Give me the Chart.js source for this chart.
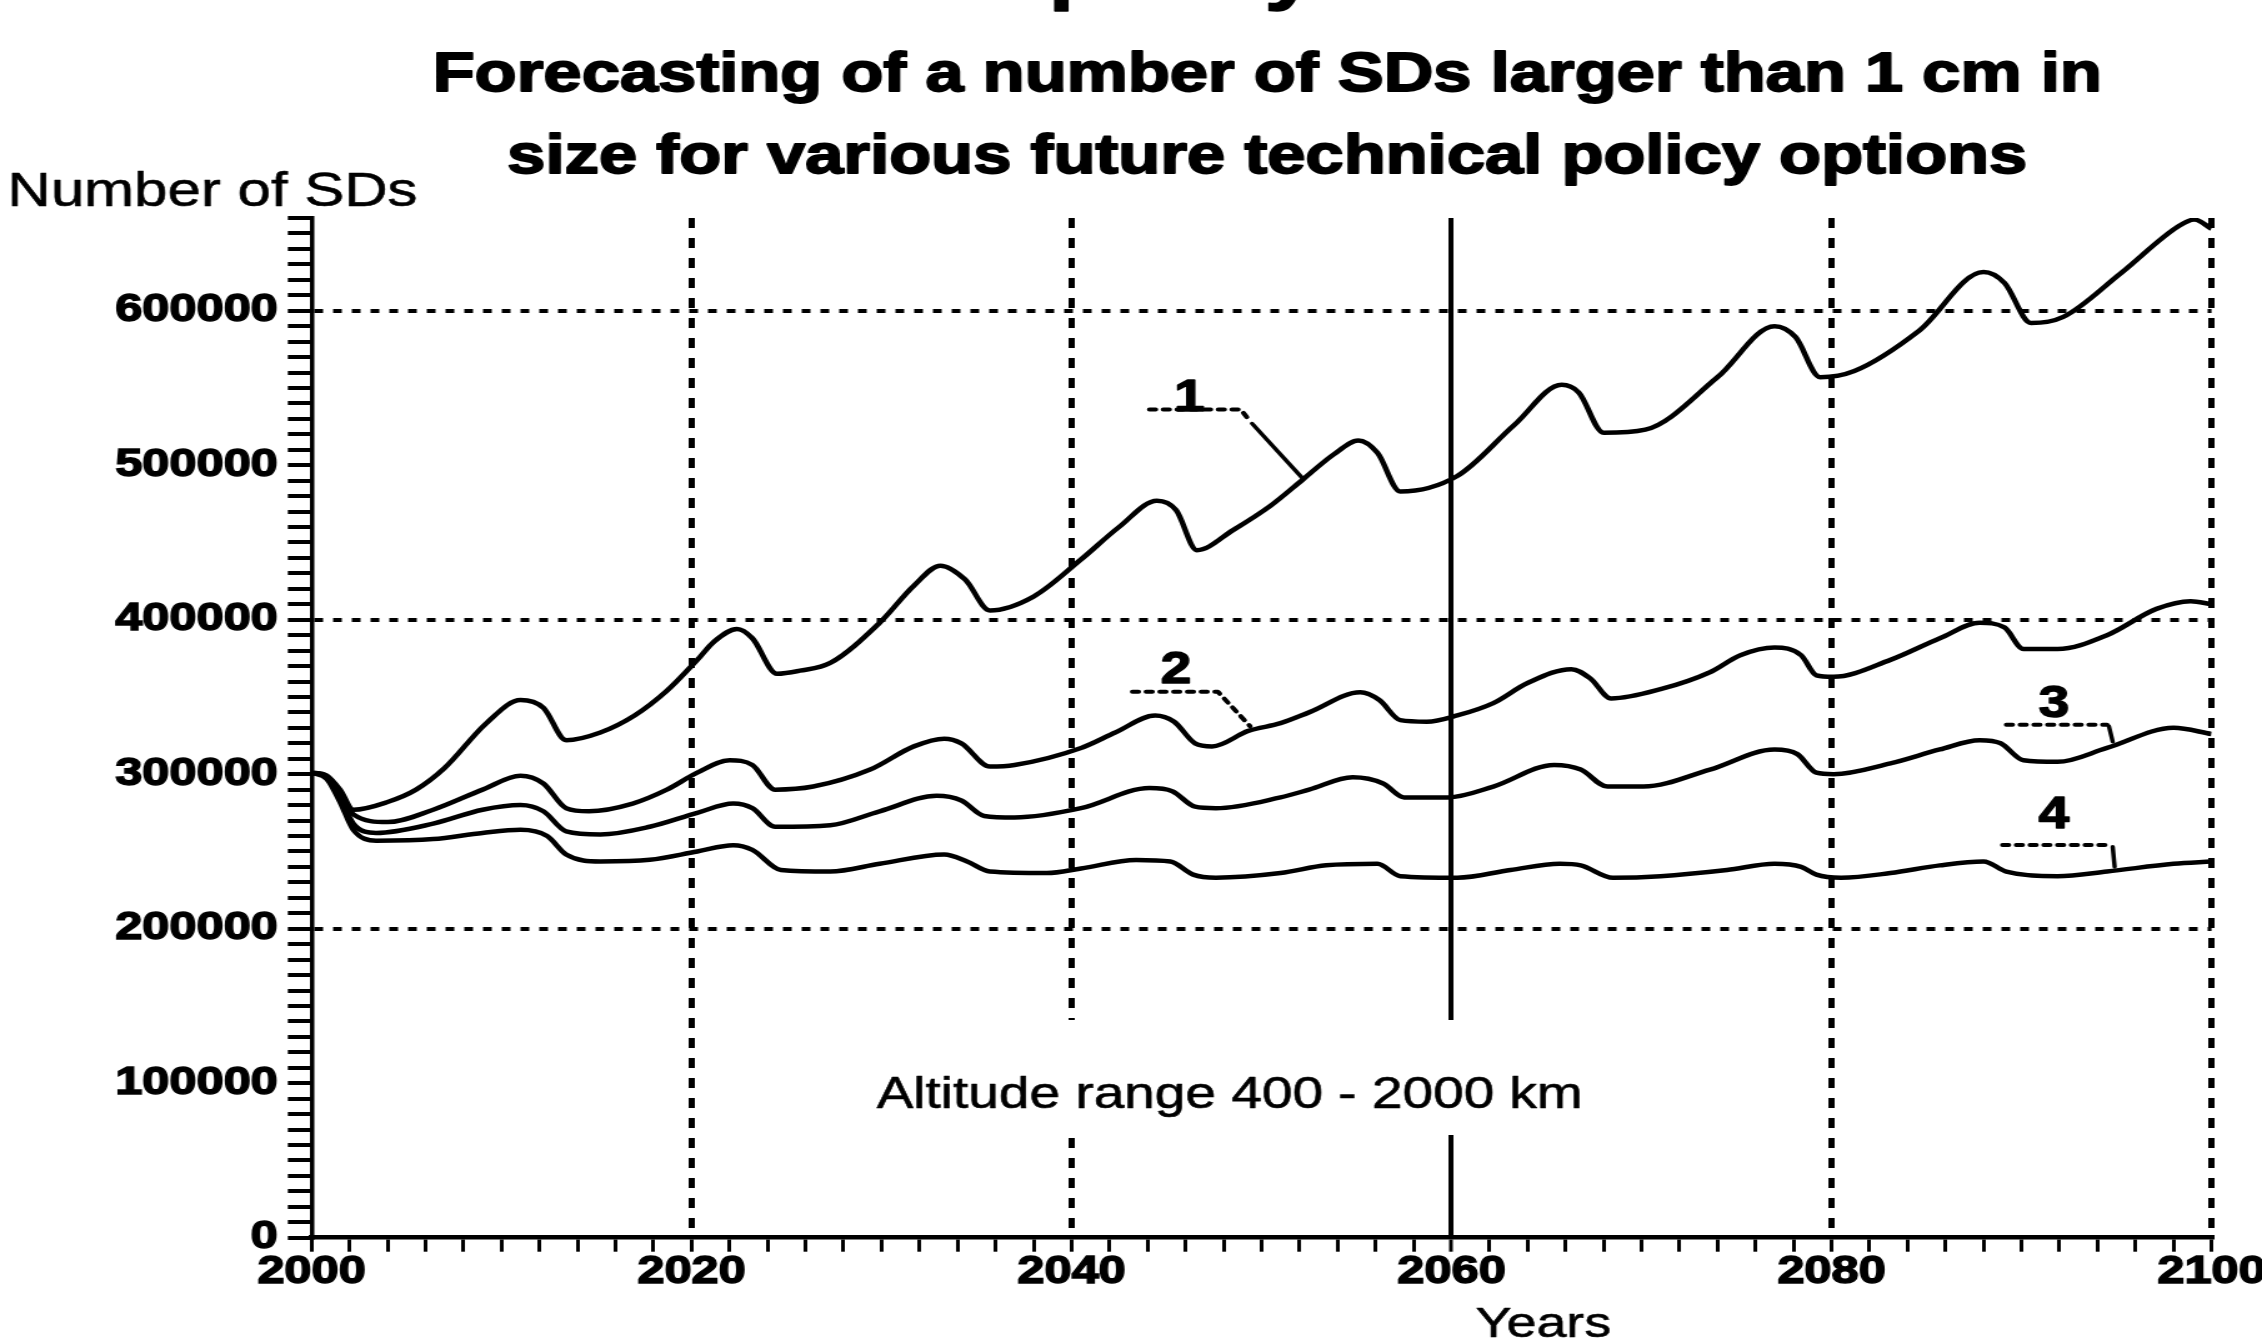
<!DOCTYPE html>
<html>
<head>
<meta charset="utf-8">
<script src="https://cdn.jsdelivr.net/npm/chart.js@4/dist/chart.umd.min.js"></script>
<style>
  html, body { margin: 0; padding: 0; background: #fff; overflow: hidden; }
  canvas { display: block; }
</style>
</head>
<body>
<!-- drawn at 1810px wide and widened to 2262px, giving the broad lettering of the plate -->
<canvas id="chart" width="1810" height="1339" style="width:2262px;height:1339px"></canvas>
<script>
// ---- text ----
const headTop = 'policy';
const titleLines = [
  'Forecasting of a number of SDs larger than 1 cm in',
  'size for various future technical policy options'
];
const yTitle = 'Number of SDs';
const xTitle = 'Years';
const note = 'Altitude range 400 - 2000 km';

// ---- series: option 1 (top) ... option 4 (bottom) ----
const years1 = [2000, 2000.8, 2001.5, 2002.2, 2004, 2005.5, 2007, 2009.2, 2011, 2012.2, 2013.4, 2015.2, 2017, 2018.7, 2020.3, 2021.2, 2022.4, 2023.2, 2024.5, 2025.7, 2027.3, 2029.9, 2031.7, 2033.1, 2034.4, 2035.7, 2038, 2040.5, 2042.5, 2044.5, 2045.5, 2046.6, 2048.5, 2050.5, 2052.2, 2053.8, 2055.1, 2056.1, 2057.3, 2060.3, 2063.3, 2065.8, 2066.7, 2068, 2070.2, 2074, 2077, 2078.1, 2079.4, 2081.2, 2084.6, 2088, 2089.1, 2090.5, 2092.2, 2095.2, 2098.3, 2099.1, 2100];
const sds1 = [301000, 299000, 290000, 277000, 282000, 290000, 304000, 333000, 348000, 343000, 322000, 327000, 338000, 354000, 374000, 386000, 394000, 388000, 365000, 367000, 372000, 398000, 422000, 435000, 426000, 406000, 415000, 439000, 460000, 477000, 471000, 445000, 458000, 474000, 491000, 507000, 516000, 508000, 483000, 493000, 526000, 552000, 547000, 521000, 523000, 557000, 590000, 583000, 557000, 561000, 587000, 625000, 618000, 592000, 596000, 624000, 655000, 659000, 653000];

const years2 = [2000, 2000.8, 2001.5, 2002.2, 2004, 2006.4, 2009, 2011, 2012.2, 2013.4, 2014.6, 2016.9, 2018.7, 2020.3, 2022, 2023.2, 2024.4, 2026.4, 2029.4, 2031.7, 2033.3, 2034.2, 2035.7, 2037, 2040.5, 2042.3, 2044.4, 2045.4, 2046.5, 2047.4, 2049.3, 2051, 2052.5, 2055.2, 2056.2, 2057.3, 2058.7, 2060.3, 2062.2, 2064, 2066.3, 2067.3, 2068.4, 2071, 2073.6, 2075.2, 2077, 2078.4, 2079.2, 2080.1, 2083.1, 2085.7, 2087.8, 2089.1, 2090.1, 2091.9, 2094.5, 2097.1, 2098.9, 2100];
const sds2 = [301000, 299000, 288000, 274000, 269000, 277000, 290000, 299000, 294000, 278000, 276000, 281000, 290000, 301000, 309000, 306000, 290000, 292000, 303000, 318000, 323000, 320000, 305000, 306000, 317000, 327000, 338000, 334000, 320000, 318000, 328000, 333000, 340000, 353000, 348000, 335000, 334000, 338000, 346000, 359000, 368000, 362000, 349000, 355000, 366000, 377000, 382000, 377000, 364000, 363000, 374000, 388000, 398000, 395000, 381000, 381000, 390000, 407000, 412000, 410000];

const years3 = [2000, 2000.8, 2001.5, 2002.2, 2003.4, 2006.4, 2009, 2011, 2012.2, 2013.4, 2015.2, 2017.8, 2020.3, 2022.2, 2023.2, 2024.4, 2027.3, 2029.9, 2032.9, 2034.2, 2035.4, 2037, 2040.5, 2044.1, 2045.3, 2046.5, 2047.6, 2051, 2052.5, 2054.8, 2056.4, 2057.5, 2059.8, 2062.2, 2065.4, 2066.8, 2068.2, 2070.1, 2073.6, 2077, 2078.2, 2079.2, 2080.1, 2083.1, 2085.7, 2087.8, 2088.9, 2090.1, 2091.9, 2094.5, 2098, 2100];
const sds3 = [301000, 298000, 285000, 268000, 262000, 268000, 277000, 280000, 276000, 263000, 261000, 266000, 275000, 281000, 278000, 266000, 267000, 276000, 286000, 283000, 273000, 272000, 278000, 291000, 289000, 279000, 278000, 285000, 290000, 298000, 294000, 285000, 285000, 292000, 306000, 303000, 292000, 292000, 303000, 316000, 313000, 301000, 300000, 307000, 316000, 322000, 320000, 309000, 308000, 317000, 330000, 326000];

const years4 = [2000, 2000.8, 2001.5, 2002.2, 2003.4, 2006.4, 2009, 2011, 2012.4, 2013.4, 2015.2, 2017.8, 2020.3, 2022.2, 2023.2, 2024.7, 2027.3, 2029.9, 2033.3, 2034.5, 2035.7, 2038.7, 2040.5, 2043.4, 2045.2, 2046.4, 2047.6, 2051, 2053.4, 2056.1, 2057.3, 2060.3, 2063.1, 2065.7, 2066.8, 2068.5, 2071, 2074.5, 2077, 2078.4, 2079.2, 2080.5, 2083.1, 2085.7, 2088, 2089.2, 2091.9, 2094.5, 2098, 2100];
const sds4 = [301000, 297000, 282000, 264000, 257000, 258000, 262000, 264000, 260000, 248000, 243500, 244600, 250000, 254000, 251000, 238000, 237000, 242000, 248000, 243500, 237000, 236000, 239000, 244500, 243500, 235000, 233000, 236000, 241000, 242000, 234000, 233000, 238000, 242000, 241000, 233000, 234000, 238000, 242000, 240000, 235000, 233000, 236000, 241000, 243500, 237000, 234000, 237000, 242000, 243500];

// ---- axes ----
const yearMin = 2000, yearMax = 2100, yearStep = 2, yearLabelEvery = 20;
const countMax = 660000, countStep = 10000, countLabelEvery = 100000, countGridEvery = 200000;
const solidYear = 2060;

// ---- curve tags: number, leader drawn dotted, then plain, in axis units ----
const tags = [
  { text: '1', at: [2046.2, 534800],
    dotted: [[2044.1, 536000], [2048.9, 536000], [2049.3, 530000]],
    plain:  [[2049.5, 527000], [2052.2, 491000]] },
  { text: '2', at: [2045.5, 359300],
    dotted: [[2043.2, 353400], [2047.7, 353400], [2049.4, 331000]],
    plain:  [] },
  { text: '3', at: [2091.7, 337200],
    dotted: [[2089.2, 332000], [2094.5, 332000]],
    plain:  [[2094.6, 331000], [2094.8, 321000]] },
  { text: '4', at: [2091.7, 265300],
    dotted: [[2089.0, 254200], [2094.7, 254200]],
    plain:  [[2094.8, 253000], [2094.9, 240000]] }
];

const FONT = '"Liberation Sans", Arial, Helvetica, sans-serif';
const pts = (xs, vs) => xs.map((x, i) => ({ x: x, y: vs[i] }));
const lineStyle = {
  borderColor: '#000', borderWidth: 4.5, pointRadius: 0, pointHoverRadius: 0,
  cubicInterpolationMode: 'monotone', fill: false
};

// filled text with a thin outline, for the heavy lettering
function heavyText(ctx, text, x, y, w) {
  ctx.lineWidth = w;
  ctx.lineJoin = 'round';
  ctx.strokeText(text, x, y);
  ctx.fillText(text, x, y);
}

const annotate = {
  id: 'annotate',
  afterDraw(chart) {
    const { ctx, scales: { x, y } } = chart;
    const px = v => x.getPixelForValue(v);
    const py = v => y.getPixelForValue(v);
    ctx.save();
    ctx.fillStyle = '#000';
    ctx.strokeStyle = '#000';

    // heading
    ctx.textBaseline = 'alphabetic';
    ctx.textAlign = 'left';
    ctx.font = 'bold 74px ' + FONT;
    heavyText(ctx, headTop, 839, -4, 1.5);
    ctx.textAlign = 'center';
    ctx.font = 'bold 55px ' + FONT;
    heavyText(ctx, titleLines[0], 1014, 91, 1.8);
    heavyText(ctx, titleLines[1], 1014, 173, 1.8);

    // axis captions
    ctx.textAlign = 'left';
    ctx.font = '48px ' + FONT;
    heavyText(ctx, yTitle, 6, 206, 0.6);
    ctx.textAlign = 'center';
    ctx.font = '43px ' + FONT;
    heavyText(ctx, xTitle, 1235, 1337, 0.6);

    // note in the plot, on a clear patch over the grid
    ctx.fillStyle = '#fff';
    ctx.fillRect(696, 1020, 576, 115);
    ctx.fillStyle = '#000';
    ctx.font = '44px ' + FONT;
    heavyText(ctx, note, 984, 1108, 0.6);

    // curve numbers with leaders
    ctx.lineCap = 'round';
    tags.forEach(t => {
      ctx.lineWidth = 4;
      if (t.dotted.length) {
        ctx.setLineDash([5, 6]);
        ctx.beginPath();
        t.dotted.forEach((p, i) => i ? ctx.lineTo(px(p[0]), py(p[1])) : ctx.moveTo(px(p[0]), py(p[1])));
        ctx.stroke();
      }
      if (t.plain.length) {
        ctx.setLineDash([]);
        ctx.lineWidth = 3.5;
        ctx.beginPath();
        t.plain.forEach((p, i) => i ? ctx.lineTo(px(p[0]), py(p[1])) : ctx.moveTo(px(p[0]), py(p[1])));
        ctx.stroke();
      }
      ctx.setLineDash([]);
      ctx.font = 'bold 44px ' + FONT;
      ctx.textAlign = 'center';
      heavyText(ctx, t.text, px(t.at[0]), py(t.at[1]), 1.5);
    });
    ctx.restore();
  }
};

new Chart(document.getElementById('chart'), {
  type: 'line',
  data: {
    datasets: [
      { label: '1', data: pts(years1, sds1), ...lineStyle },
      { label: '2', data: pts(years2, sds2), ...lineStyle },
      { label: '3', data: pts(years3, sds3), ...lineStyle },
      { label: '4', data: pts(years4, sds4), ...lineStyle }
    ]
  },
  options: {
    responsive: false,
    devicePixelRatio: 1,
    animation: false,
    events: [],
    layout: { padding: { top: 218, right: 40.4, bottom: 0, left: 0 } },
    plugins: { legend: { display: false }, title: { display: false }, tooltip: { enabled: false } },
    scales: {
      x: {
        type: 'linear',
        min: yearMin, max: yearMax,
        afterFit(s) { s.height = 101.3; s.paddingLeft = 0; s.paddingRight = 0; },
        ticks: {
          stepSize: yearStep, maxTicksLimit: 1000, autoSkip: false, maxRotation: 0,
          padding: -3, color: '#000',
          textStrokeColor: '#000', textStrokeWidth: 1.5,
          font: { family: FONT, size: 39, weight: 'bold' },
          callback: v => (Math.round(v) % yearLabelEvery === 0 ? String(Math.round(v)) : '')
        },
        grid: {
          drawOnChartArea: true, drawTicks: true,
          color: c => (c.tick && c.tick.value % yearLabelEvery === 0 && c.tick.value !== yearMin) ? '#000' : 'rgba(0,0,0,0)',
          lineWidth: c => (c.tick && c.tick.value === solidYear) ? 4 : 5,
          tickColor: '#000', tickWidth: 3, tickLength: 14
        },
        border: {
          display: true, color: '#000', width: 4.5,
          dash: c => (c.type === 'tick' && c.tick && c.tick.value !== solidYear) ? [10, 10] : []
        }
      },
      y: {
        type: 'linear',
        min: 0, max: countMax,
        afterFit(s) { s.width = 249.3; s.paddingTop = 0; s.paddingBottom = 0; },
        ticks: {
          stepSize: countStep, maxTicksLimit: 1000, autoSkip: false,
          padding: 8, color: '#000',
          textStrokeColor: '#000', textStrokeWidth: 1.5,
          font: { family: FONT, size: 39, weight: 'bold' },
          callback: v => (v % countLabelEvery === 0 ? String(v) : '')
        },
        grid: {
          drawOnChartArea: true, drawTicks: true,
          color: c => (c.tick && c.tick.value > 0 && c.tick.value % countGridEvery === 0) ? '#000' : 'rgba(0,0,0,0)',
          lineWidth: 4,
          tickColor: '#000', tickWidth: 4, tickLength: 19
        },
        border: {
          display: true, color: '#000', width: 3.5,
          dash: c => (c.type === 'tick') ? [7, 8] : []
        }
      }
    }
  },
  plugins: [annotate]
});
</script>
</body>
</html>
